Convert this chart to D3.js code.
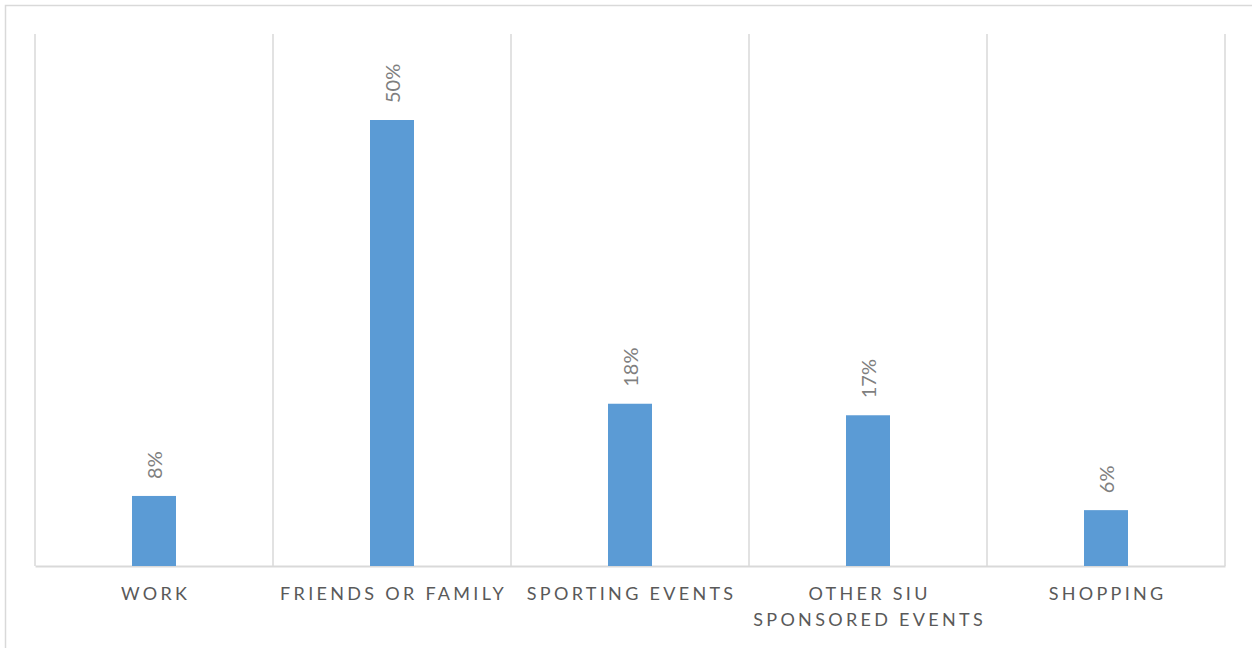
<!DOCTYPE html>
<html>
<head>
<meta charset="utf-8">
<script src="https://cdn.jsdelivr.net/npm/d3@7"></script>
<style>
    body { margin: 0; background: #fff; }
    svg { display: block; font-family: Lato, 'Open Sans', sans-serif; }
</style>
</head>
<body>
<div id="chart"></div>
<script>
const categories = ['WORK', 'FRIENDS OR FAMILY', 'SPORTING EVENTS', 'OTHER SIU|SPONSORED EVENTS', 'SHOPPING'];
const values = [0.079, 0.503, 0.183, 0.17, 0.063];
const valueLabels = ['8%', '50%', '18%', '17%', '6%'];

const width = 1252;
const height = 648;
const margin = { top: 34, right: 27, bottom: 82, left: 35 };

const svg = d3.select('#chart')
    .append('svg')
    .attr('width', width)
    .attr('height', height);

// chart area border (right and bottom edges fall outside the view)
svg.append('rect')
    .attr('x', 5.5)
    .attr('y', 5.5)
    .attr('width', width + 10)
    .attr('height', height)
    .attr('fill', 'none')
    .attr('stroke', '#d9d9d9')
    .attr('stroke-width', 1.5);

const x = d3.scaleBand()
    .domain(categories)
    .range([margin.left, width - margin.right])
    .paddingInner(0)
    .paddingOuter(0);

const y = d3.scaleLinear()
    .domain([0, 0.6])
    .range([height - margin.bottom, margin.top]);

// vertical separators between categories
const edges = categories.map((c) => x(c)).concat([x(categories.at(-1)) + x.bandwidth()]);
svg.append('g')
    .selectAll('line')
    .data(edges)
    .join('line')
    .attr('x1', (d) => d)
    .attr('x2', (d) => d)
    .attr('y1', y(0.6))
    .attr('y2', y(0))
    .attr('stroke', '#d9d9d9')
    .attr('stroke-width', 1.5);

// x axis
const xAxis = svg.append('g')
    .attr('transform', `translate(0,${y(0)})`)
    .call(d3.axisBottom(x).tickSize(0).tickFormat(''));
xAxis.select('.domain').attr('stroke', '#d9d9d9').attr('stroke-width', 2);

const barWidth = 44;

svg.append('g')
    .attr('fill', '#5b9bd5')
    .selectAll('rect')
    .data(values)
    .join('rect')
    .attr('x', (d, i) => x(categories[i]) + x.bandwidth() / 2 - barWidth / 2)
    .attr('y', (d) => y(d))
    .attr('width', barWidth)
    .attr('height', (d) => y(0) - y(d));

// value labels, rotated
svg.append('g')
    .selectAll('text')
    .data(values)
    .join('text')
    .attr('transform', (d, i) => `translate(${x(categories[i]) + x.bandwidth() / 2 + 7.5},${y(d) - 17}) rotate(-90)`)
    .attr('text-anchor', 'start')
    .attr('fill', '#7f7f7f')
    .style('font-size', '20px')
    .text((d, i) => valueLabels[i]);

// category labels
const catLabels = svg.append('g')
    .selectAll('text')
    .data(categories)
    .join('text')
    .attr('x', (d) => x(d) + x.bandwidth() / 2)
    .attr('y', 600)
    .attr('text-anchor', 'middle')
    .attr('fill', '#595959')
    .style('font-size', '18px')
    .style('letter-spacing', '3.3px');

catLabels.selectAll('tspan')
    .data((d) => d.split('|').map((t) => ({ t, cx: x(d) + x.bandwidth() / 2 })))
    .join('tspan')
    .attr('x', (d) => d.cx + 1.6)
    .attr('dy', (d, i) => (i === 0 ? 0 : 26))
    .text((d) => d.t);
</script>
</body>
</html>
